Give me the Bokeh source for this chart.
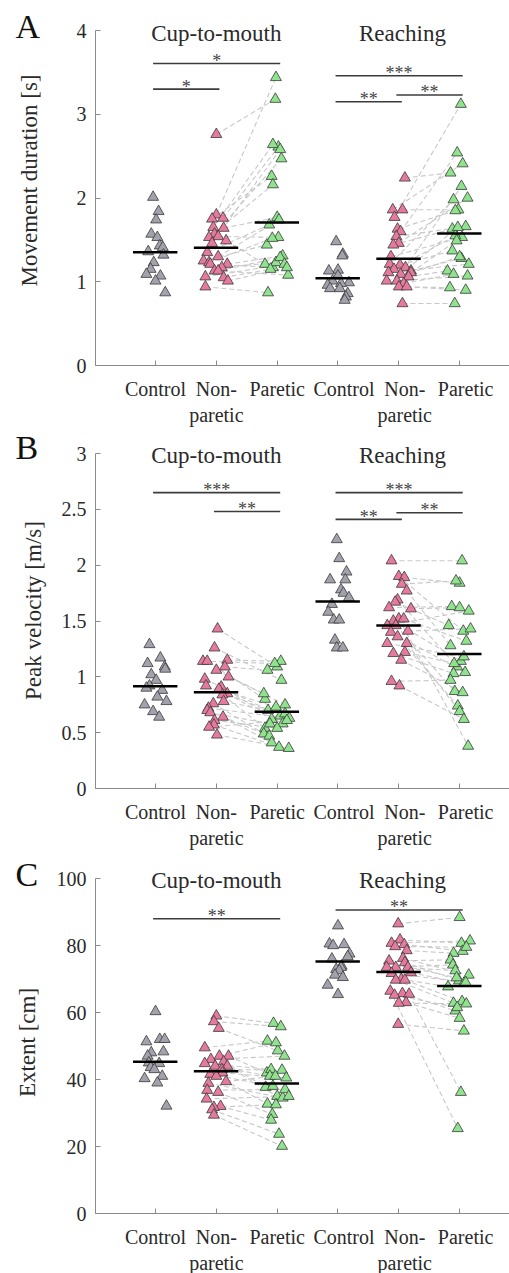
from bokeh.plotting import figure
from bokeh.layouts import column
from bokeh.models import Range1d, FixedTicker, Label, LinearAxis
from bokeh.embed import file_html
from bokeh.resources import INLINE
from bokeh.core.properties import value

FONT = "Liberation Serif"

# ---------------- categories ----------------
categories = [1, 2, 3, 4, 5, 6]
tick_labels = ["Control", "Non-\nparetic", "Paretic", "Control", "Non-\nparetic", "Paretic"]
task_titles = ["Cup-to-mouth", "Reaching"]

# ---------------- Panel A: movement duration [s] ----------------
A_ctrl_cup = [2.01, 1.84, 1.74, 1.57, 1.53, 1.43, 1.41, 1.36, 1.32, 1.23, 1.15, 1.09, 1.07, 1.01, 0.87]
A_ctrl_cup_jit = [-0.04, 0.05, 0.01, -0.07, 0.03, 0.07, 0.12, -0.12, 0.13, -0.03, -0.08, -0.15, 0.08, 0.0, 0.16]
A_np_cup = [2.76, 1.80, 1.76, 1.75, 1.65, 1.64, 1.57, 1.54, 1.53, 1.49, 1.46, 1.35, 1.30, 1.25, 1.23, 1.21,
            1.21, 1.17, 1.13, 1.13, 1.06, 1.05, 1.01, 0.94]
A_np_cup_jit = [0.0, 0.0, 0.11, -0.07, -0.05, 0.12, -0.03, 0.03, -0.12, 0.16, -0.07, -0.15, 0.03, -0.21, -0.12,
                -0.1, 0.18, 0.09, -0.03, 0.03, -0.18, 0.12, 0.19, -0.18]
A_p_cup = [3.18, 3.44, 2.61, 2.26, 2.64, 1.77, 2.47, 1.53, 2.16, 1.21, 2.58, 1.68, 1.74, 1.44, 1.52, 1.17,
           1.31, 1.23, 1.08, 1.29, 1.21, 1.15, 1.17, 0.87]
A_p_cup_jit = [-0.03, -0.02, 0.02, -0.09, -0.07, 0.0, 0.07, 0.02, -0.07, -0.2, 0.05, -0.13, 0.03, -0.17, -0.08,
               -0.07, 0.09, -0.02, 0.18, 0.05, 0.12, -0.11, 0.16, -0.15]
A_ctrl_reach = [1.48, 1.33, 1.31, 1.14, 1.13, 1.07, 1.01, 0.99, 0.98, 0.96, 0.92, 0.92, 0.86, 0.82, 0.78]
A_ctrl_reach_jit = [-0.03, 0.08, 0.07, 0.0, -0.15, 0.0, -0.09, 0.18, 0.05, -0.17, -0.13, 0.03, 0.16, 0.13, 0.11]
A_np_reach = [2.24, 1.86, 1.86, 1.77, 1.63, 1.60, 1.54, 1.46, 1.44, 1.30, 1.21, 1.20, 1.17, 1.15, 1.13, 1.11,
              1.11, 1.09, 1.06, 1.01, 1.01, 0.98, 0.94, 0.94, 0.74]
A_np_reach_jit = [0.1, -0.1, 0.06, -0.07, -0.02, 0.03, -0.04, 0.0, -0.09, -0.13, -0.15, 0.02, 0.11, -0.08, 0.2,
                  0.2, -0.17, 0.03, 0.16, -0.2, -0.03, 0.08, 0.0, 0.13, 0.06]
A_p_reach = [2.30, 2.41, 1.86, 3.12, 1.85, 2.54, 1.66, 2.00, 1.63, 1.53, 1.98, 1.37, 2.14, 1.55, 1.28, 1.49,
             1.21, 1.65, 1.13, 1.30, 1.07, 1.09, 0.93, 0.90, 0.74]
A_p_reach_jit = [-0.15, 0.05, -0.02, 0.02, -0.07, -0.04, 0.1, 0.13, -0.12, 0.04, -0.1, -0.12, 0.03, -0.07, 0.03,
                 -0.05, 0.15, -0.03, -0.2, 0.0, 0.13, -0.1, -0.16, 0.1, -0.08]
A_medians = [1.353, 1.405, 1.707, 1.043, 1.274, 1.576]
A_sig_from = [1, 1, 4, 4, 5]
A_sig_to = [3, 2, 6, 5, 6]
A_sig_y = [3.606, 3.30, 3.46, 3.15, 3.23]
A_sig_text = ["*", "*", "***", "**", "**"]
A_yticks = [0, 1, 2, 3, 4]
A_ytick_labels = ["0", "1", "2", "3", "4"]

# ---------------- Panel B: peak velocity [m/s] ----------------
B_ctrl_cup = [1.29, 1.17, 1.12, 1.09, 1.07, 1.02, 0.97, 0.92, 0.90, 0.88, 0.82, 0.78, 0.75, 0.69, 0.64]
B_ctrl_cup_jit = [-0.1, 0.08, -0.13, 0.15, 0.16, -0.07, 0.01, -0.1, -0.15, 0.11, 0.03, 0.18, -0.18, -0.04, 0.06]
B_np_cup = [1.43, 1.26, 1.15, 1.14, 1.14, 1.09, 1.06, 1.00, 0.98, 0.92, 0.91, 0.89, 0.85, 0.84, 0.78, 0.76,
            0.72, 0.70, 0.68, 0.64, 0.61, 0.57, 0.55, 0.48]
B_np_cup_jit = [0.02, -0.03, 0.18, -0.22, -0.15, 0.14, 0.0, 0.2, -0.19, -0.17, 0.08, 0.04, 0.18, 0.1, 0.12,
                -0.05, -0.13, -0.15, -0.1, 0.11, -0.03, -0.04, -0.12, 0.01]
B_p_cup = [1.09, 0.97, 1.14, 1.12, 0.80, 1.06, 0.75, 0.85, 0.65, 0.70, 0.58, 0.73, 0.62, 0.54, 0.67, 0.49,
           0.63, 0.47, 0.58, 0.41, 0.54, 0.37, 0.61, 0.36]
B_p_cup_jit = [0.0, 0.07, 0.06, -0.04, -0.2, -0.16, 0.13, -0.22, 0.05, -0.15, 0.09, -0.02, -0.09, -0.2, 0.13,
               -0.22, 0.2, -0.13, -0.12, -0.09, 0.0, 0.03, 0.16, 0.19]
B_ctrl_reach = [2.23, 2.06, 1.94, 1.87, 1.87, 1.78, 1.75, 1.71, 1.65, 1.58, 1.51, 1.51, 1.33, 1.26, 1.26]
B_ctrl_reach_jit = [-0.02, 0.02, 0.14, -0.13, 0.12, 0.05, 0.09, 0.18, -0.1, -0.16, -0.07, 0.02, -0.05, -0.02, 0.08]
B_np_reach = [2.04, 1.90, 1.89, 1.83, 1.77, 1.69, 1.67, 1.62, 1.61, 1.52, 1.52, 1.50, 1.46, 1.46, 1.41, 1.40,
              1.36, 1.30, 1.30, 1.22, 1.21, 1.15, 0.96, 0.92]
B_np_reach_jit = [-0.12, 0.0, 0.09, 0.05, 0.13, -0.02, -0.06, -0.16, 0.2, 0.0, 0.08, -0.09, -0.19, -0.05, 0.15,
                  -0.13, -0.02, -0.19, 0.13, 0.1, -0.09, 0.04, -0.12, 0.01]
B_p_reach = [2.04, 1.41, 1.84, 1.86, 1.28, 1.09, 1.46, 1.63, 1.62, 0.38, 1.32, 1.14, 1.59, 0.87, 1.43, 1.04,
             0.74, 1.18, 0.69, 1.12, 1.03, 0.86, 0.97, 0.62]
B_p_reach_jit = [0.04, 0.06, 0.0, -0.06, -0.15, -0.04, -0.18, -0.13, 0.0, 0.14, 0.11, 0.02, 0.15, -0.08, 0.18,
                 0.09, -0.03, 0.07, 0.0, -0.09, -0.1, 0.05, -0.15, 0.07]
B_medians = [0.915, 0.861, 0.688, 1.675, 1.459, 1.205]
B_sig_from = [1, 2, 4, 4, 5]
B_sig_to = [3, 3, 6, 5, 6]
B_sig_y = [2.65, 2.48, 2.65, 2.41, 2.47]
B_sig_text = ["***", "**", "***", "**", "**"]
B_yticks = [0, 0.5, 1, 1.5, 2, 2.5, 3]
B_ytick_labels = ["0", "0.5", "1", "1.5", "2", "2.5", "3"]

# ---------------- Panel C: extent [cm] ----------------
C_ctrl_cup = [60.3, 52, 52, 51.3, 48.3, 48, 47, 45, 44.8, 43.6, 43, 41, 40.3, 39, 32.1]
C_ctrl_cup_jit = [0.0, 0.07, 0.15, -0.15, 0.13, -0.07, -0.13, -0.11, 0.06, -0.08, -0.02, 0.11, -0.18, 0.03, 0.18]
C_np_cup = [59, 57.3, 55.3, 49.5, 47, 47, 46, 45.3, 44.8, 44, 44, 43, 42, 41.6, 41, 39.4, 38.9, 36.8, 36.2,
            34.2, 32, 31.7, 31, 29.4]
C_np_cup_jit = [0.0, -0.04, 0.04, -0.19, 0.05, 0.2, -0.09, 0.12, -0.19, -0.02, 0.18, 0.09, 0.1, -0.1, 0.0,
                0.16, -0.13, -0.15, 0.03, -0.16, 0.07, -0.04, -0.07, -0.04]
C_p_cup = [56.8, 55.8, 48.6, 51.5, 51, 42, 47, 37.7, 43, 41, 35, 42.8, 40.5, 38, 32.7, 41, 34.5, 37, 29.6,
           35, 27.9, 32.5, 23.7, 20.1]
C_p_cup_jit = [-0.06, 0.06, 0.01, -0.16, -0.02, -0.17, 0.12, -0.19, -0.1, -0.12, 0.0, 0.08, 0.15, -0.07,
               -0.16, -0.03, 0.09, 0.13, -0.08, 0.19, -0.1, -0.02, 0.03, 0.08]
C_ctrl_reach = [85.9, 80.5, 80.3, 80, 77.5, 76.7, 76, 73.9, 73.5, 72.9, 72.5, 71.2, 70.5, 68.2, 65.4]
C_ctrl_reach_jit = [0.0, -0.14, 0.1, -0.08, 0.19, 0.16, -0.1, 0.06, 0.05, -0.03, 0.02, -0.05, 0.08, -0.17, 0.0]
C_np_reach = [86.5, 81.7, 80.7, 80.3, 79.7, 78.5, 76.2, 75.4, 74.9, 73.5, 73.5, 73.5, 71.9, 71.7, 69.9, 69.7,
              69.7, 66.4, 65.7, 65.5, 65.2, 63, 62.8, 56.5]
C_np_reach_jit = [-0.01, 0.02, -0.12, 0.09, -0.06, 0.13, 0.07, -0.16, 0.1, -0.2, -0.05, 0.15, 0.2, -0.12, 0.04,
                  -0.05, 0.1, -0.14, 0.06, 0.17, -0.07, 0.12, 0.0, -0.01]
C_p_reach = [88.4, 80.7, 81.4, 78.3, 79.5, 77.7, 71.2, 75.7, 69.5, 74.2, 72.5, 70.4, 68.7, 69, 67.7, 62.8,
             63.3, 25.4, 60.5, 36.2, 61.5, 58.3, 62.6, 54.5]
C_p_reach_jit = [0.0, 0.03, 0.17, 0.05, 0.11, -0.1, 0.15, -0.15, -0.01, -0.11, -0.07, -0.05, 0.07, 0.1, -0.19,
                 -0.1, 0.04, -0.03, -0.07, 0.02, -0.04, 0.0, 0.11, 0.07]
C_medians = [45.3, 42.5, 38.8, 75.2, 72.1, 67.9]
C_sig_from = [1, 4]
C_sig_to = [3, 6]
C_sig_y = [88.0, 90.6]
C_sig_text = ["**", "**"]
C_yticks = [0, 20, 40, 60, 80, 100]
C_ytick_labels = ["0", "20", "40", "60", "80", "100"]

# ---------------- styling ----------------
COL_CTRL = "#a2a2ad"
COL_NP = "#e67a9c"
COL_P = "#8fe38d"
EDGE = "#3a3a3a"
AXIS_COL = "#8a8a8a"
TEXT_COL = "#2a2a2a"

X_LO, X_HI = 0.013, 6.82          # extent of the drawn x axis
AX_LEFT_PX = 95                    # y axis position inside the 509 px wide figure
PPX = (509 - AX_LEFT_PX) / (X_HI - X_LO)
X_START = X_LO - AX_LEFT_PX / PPX  # frame covers the full width
REACH_LABEL_SHIFT = 6 / PPX        # reaching tick labels sit slightly right of their ticks


def style_axis(ax):
    ax.axis_line_color = AXIS_COL
    ax.axis_line_width = 1
    ax.major_tick_line_color = AXIS_COL
    ax.major_tick_in = 5
    ax.major_tick_out = 0
    ax.minor_tick_line_color = None
    ax.major_label_text_font = FONT
    ax.major_label_text_font_size = "20px"
    ax.major_label_text_color = TEXT_COL


def make_panel(letter, ylabel, ymax, yticks, ytick_labels, groups, medians,
               sig_from, sig_to, sig_y, sig_text, height, zero_px,
               title_mid_px, letter_mid_px, ylabel_standoff, ylabel_center_px):
    ppu = 335.0 / ymax
    p = figure(width=509, height=height, x_range=Range1d(X_START, X_HI),
               y_range=Range1d(-(height - zero_px) / ppu, zero_px / ppu),
               output_backend="svg", toolbar_location=None,
               min_border_left=0, min_border_right=0, min_border_top=0, min_border_bottom=0)
    p.outline_line_color = None
    p.xgrid.visible = False
    p.ygrid.visible = False
    p.background_fill_color = "white"
    p.border_fill_color = "white"

    # x axis: ticks at all six positions, labels of the first task
    p.xaxis.ticker = FixedTicker(ticks=categories)
    p.xaxis.major_label_overrides = {c: (t if c <= 3 else "") for c, t in zip(categories, tick_labels)}
    p.xaxis.bounds = (X_LO, X_HI)
    p.xaxis.fixed_location = 0
    style_axis(p.xaxis)
    p.xaxis.major_label_standoff = 12
    # labels of the second task (no line, no ticks)
    ax2 = LinearAxis(ticker=FixedTicker(ticks=[c + REACH_LABEL_SHIFT for c in categories[3:]]),
                     major_label_overrides={c + REACH_LABEL_SHIFT: t for c, t in zip(categories[3:], tick_labels[3:])},
                     fixed_location=0, bounds=(X_LO, X_HI))
    style_axis(ax2)
    ax2.axis_line_color = None
    ax2.major_tick_line_color = None
    ax2.major_label_standoff = 12
    p.add_layout(ax2, "below")

    # y axis (line, ticks, tick labels)
    p.yaxis.ticker = FixedTicker(ticks=yticks)
    p.yaxis.major_label_overrides = {t: l for t, l in zip(yticks, ytick_labels)}
    p.yaxis.bounds = (0, ymax)
    p.yaxis.fixed_location = X_LO
    style_axis(p.yaxis)
    p.yaxis.major_label_standoff = 9
    # y axis title (centred where the original places it)
    yc = ylabel_center_px / ppu
    ay2 = LinearAxis(ticker=FixedTicker(ticks=[]), fixed_location=X_LO, bounds=(yc - 1 / ppu, yc + 1 / ppu),
                     axis_label=ylabel)
    ay2.axis_line_color = None
    ay2.major_tick_line_color = None
    ay2.minor_tick_line_color = None
    ay2.axis_label_text_font = FONT
    ay2.axis_label_text_font_size = "23px"
    ay2.axis_label_text_font_style = "normal"
    ay2.axis_label_text_color = TEXT_COL
    ay2.axis_label_standoff = ylabel_standoff
    p.add_layout(ay2, "left")

    for (cn, vn, jn), (cp, vp, jp) in [(groups[1], groups[2]), (groups[4], groups[5])]:
        xs = [[cn + a, cp + b] for a, b in zip(jn, jp)]
        ys = [[u, w] for u, w in zip(vn, vp)]
        p.multi_line(xs, ys, line_color="#c8c8c8", line_width=1.1, line_dash="5 3")

    colors = [COL_CTRL, COL_NP, COL_P, COL_CTRL, COL_NP, COL_P]
    for (c, vals, jit), col in zip(groups, colors):
        p.scatter([c + j for j in jit], vals, marker="triangle", size=11,
                  fill_color=col, line_color=EDGE, line_width=0.8)

    p.segment(x0=[c - 0.37 for c in categories], x1=[c + 0.36 for c in categories],
              y0=medians, y1=medians, line_color="black", line_width=2.5)

    x0 = [a - 0.04 for a in sig_from]
    x1 = [b + 0.05 for b in sig_to]
    p.segment(x0=x0, x1=x1, y0=sig_y, y1=sig_y, line_color="#3c3c3c", line_width=1.6)
    p.text(x=[(a + b) / 2 for a, b in zip(x0, x1)], y=[y + 2.5 / ppu for y in sig_y], text=sig_text,
           text_align="center", text_baseline="alphabetic", text_font=value(FONT),
           text_font_size="18px", text_color="#444444")

    ty = ymax + title_mid_px / ppu
    for tx, t in zip([2.0, 5.06], task_titles):
        p.add_layout(Label(x=tx, y=ty, text=t, text_align="center", text_baseline="middle",
                           text_font=FONT, text_font_size="23px", text_color=TEXT_COL))
    p.add_layout(Label(x=X_LO + (15 - AX_LEFT_PX) / PPX, y=ymax + letter_mid_px / ppu, text=letter,
                       text_align="left", text_baseline="middle", text_font=FONT,
                       text_font_size="34px", text_color="#111111"))
    return p


def groups_of(cc, ccj, nc, ncj, pc, pcj, cr, crj, nr, nrj, pr, prj):
    return [(1, cc, ccj), (2, nc, ncj), (3, pc, pcj), (4, cr, crj), (5, nr, nrj), (6, pr, prj)]


pA = make_panel("A", "Movement duration [s]", 4, A_yticks, A_ytick_labels,
                groups_of(A_ctrl_cup, A_ctrl_cup_jit, A_np_cup, A_np_cup_jit, A_p_cup, A_p_cup_jit,
                          A_ctrl_reach, A_ctrl_reach_jit, A_np_reach, A_np_reach_jit, A_p_reach, A_p_reach_jit),
                A_medians, A_sig_from, A_sig_to, A_sig_y, A_sig_text,
                height=427, zero_px=365, title_mid_px=-3, letter_mid_px=4.5, ylabel_standoff=54,
                ylabel_center_px=185)
pB = make_panel("B", "Peak velocity [m/s]", 3, B_yticks, B_ytick_labels,
                groups_of(B_ctrl_cup, B_ctrl_cup_jit, B_np_cup, B_np_cup_jit, B_p_cup, B_p_cup_jit,
                          B_ctrl_reach, B_ctrl_reach_jit, B_np_reach, B_np_reach_jit, B_p_reach, B_p_reach_jit),
                B_medians, B_sig_from, B_sig_to, B_sig_y, B_sig_text,
                height=423, zero_px=361, title_mid_px=-2, letter_mid_px=6, ylabel_standoff=50,
                ylabel_center_px=178)
pC = make_panel("C", "Extent [cm]", 100, C_yticks, C_ytick_labels,
                groups_of(C_ctrl_cup, C_ctrl_cup_jit, C_np_cup, C_np_cup_jit, C_p_cup, C_p_cup_jit,
                          C_ctrl_reach, C_ctrl_reach_jit, C_np_reach, C_np_reach_jit, C_p_reach, C_p_reach_jit),
                C_medians, C_sig_from, C_sig_to, C_sig_y, C_sig_text,
                height=423, zero_px=363, title_mid_px=-2, letter_mid_px=4, ylabel_standoff=56,
                ylabel_center_px=171)

layout = column(pA, pB, pC, spacing=0)
open("out.html", "w").write(file_html(layout, INLINE))
